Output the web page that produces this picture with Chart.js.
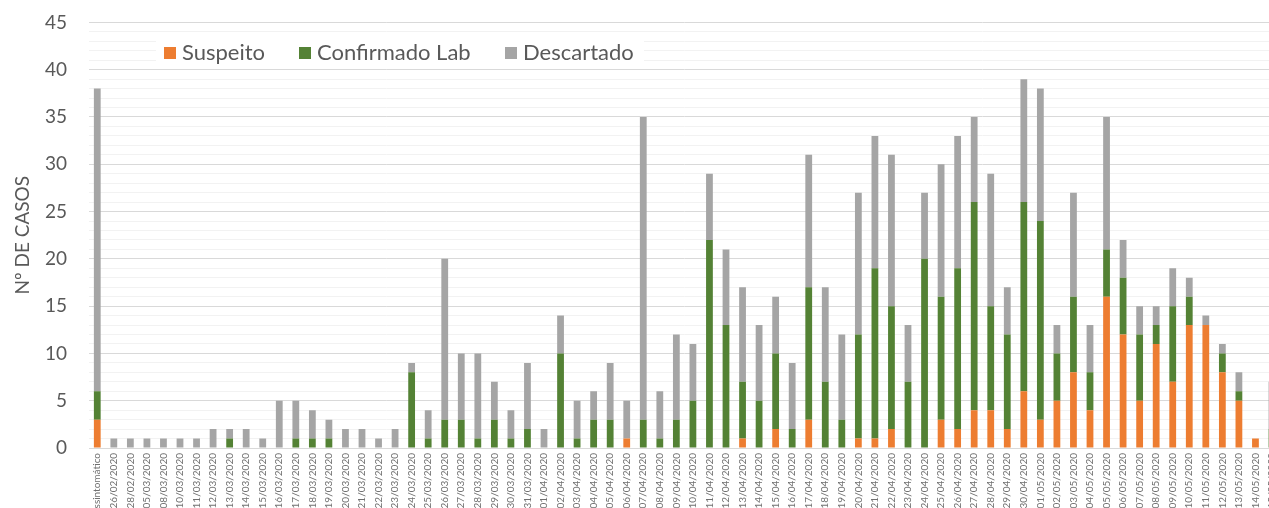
<!DOCTYPE html>
<html>
<head>
<meta charset="utf-8">
<script src="https://cdn.jsdelivr.net/npm/chart.js@4.4.1/dist/chart.umd.min.js"></script>
<style>
  html, body { margin: 0; padding: 0; background: #fff; overflow: hidden; }
  #wrap { width: 1269px; height: 508px; overflow: hidden; }
  #chart { display: block; margin-top: -11px; }
</style>
</head>
<body>
<div id="wrap"><canvas id="chart" width="1289" height="519"></canvas></div>
<script>
// categories (x axis) - last one is cut off at the right edge in the original
const labels = [
  'Assintomático', '26/02/2020', '28/02/2020', '05/03/2020', '08/03/2020', '10/03/2020',
  '11/03/2020', '12/03/2020', '13/03/2020', '14/03/2020', '15/03/2020', '16/03/2020',
  '17/03/2020', '18/03/2020', '19/03/2020', '20/03/2020', '21/03/2020', '22/03/2020',
  '23/03/2020', '24/03/2020', '25/03/2020', '26/03/2020', '27/03/2020', '28/03/2020',
  '29/03/2020', '30/03/2020', '31/03/2020', '01/04/2020', '02/04/2020', '03/04/2020',
  '04/04/2020', '05/04/2020', '06/04/2020', '07/04/2020', '08/04/2020', '09/04/2020',
  '10/04/2020', '11/04/2020', '12/04/2020', '13/04/2020', '14/04/2020', '15/04/2020',
  '16/04/2020', '17/04/2020', '18/04/2020', '19/04/2020', '20/04/2020', '21/04/2020',
  '22/04/2020', '23/04/2020', '24/04/2020', '25/04/2020', '26/04/2020', '27/04/2020',
  '28/04/2020', '29/04/2020', '30/04/2020', '01/05/2020', '02/05/2020', '03/05/2020',
  '04/05/2020', '05/05/2020', '06/05/2020', '07/05/2020', '08/05/2020', '09/05/2020',
  '10/05/2020', '11/05/2020', '12/05/2020', '13/05/2020', '14/05/2020', '15/05/2020'
];

const suspeito = [
  3, 0, 0, 0, 0, 0, 0, 0, 0, 0, 0, 0,
  0, 0, 0, 0, 0, 0, 0, 0, 0, 0, 0, 0,
  0, 0, 0, 0, 0, 0, 0, 0, 1, 0, 0, 0,
  0, 0, 0, 1, 0, 2, 0, 3, 0, 0, 1, 1,
  2, 0, 0, 3, 2, 4, 4, 2, 6, 3, 5, 8,
  4, 16, 12, 5, 11, 7, 13, 13, 8, 5, 1, 0
];

const confirmado = [
  3, 0, 0, 0, 0, 0, 0, 0, 1, 0, 0, 0,
  1, 1, 1, 0, 0, 0, 0, 8, 1, 3, 3, 1,
  3, 1, 2, 0, 10, 1, 3, 3, 0, 3, 1, 3,
  5, 22, 13, 6, 5, 8, 2, 14, 7, 3, 11, 18,
  13, 7, 20, 13, 17, 22, 11, 10, 20, 21, 5, 8,
  4, 5, 6, 7, 2, 8, 3, 0, 2, 1, 0, 2
];

const descartado = [
  32, 1, 1, 1, 1, 1, 1, 2, 1, 2, 1, 5,
  4, 3, 2, 2, 2, 1, 2, 1, 3, 17, 7, 9,
  4, 3, 7, 2, 4, 4, 3, 6, 4, 32, 5, 9,
  6, 7, 8, 10, 8, 6, 7, 14, 10, 9, 15, 14,
  16, 6, 7, 14, 14, 9, 14, 5, 13, 14, 3, 11,
  5, 14, 4, 3, 2, 4, 2, 1, 1, 2, 0, 5
];

const FONT = 'Lato, "Noto Sans", sans-serif';
const TEXT = '#595959';
const TOP = 11; // canvas is shifted up by this much

// legend drawn by hand so it sits inside the plot like the excel one
const legendPlugin = {
  id: 'excelLegend',
  afterDraw(chart) {
    const ctx = chart.ctx;
    const xs = [164, 299, 505];
    ctx.save();
    ctx.fillStyle = '#fff';
    ctx.fillRect(156, 40 + TOP, 488, 26);
    ctx.font = '22px ' + FONT;
    ctx.textBaseline = 'middle';
    chart.data.datasets.forEach((ds, i) => {
      ctx.fillStyle = ds.backgroundColor;
      ctx.fillRect(xs[i], 47 + TOP, 12, 12);
      ctx.fillStyle = TEXT;
      ctx.fillText(ds.label, xs[i] + 18, 53 + TOP);
    });
    ctx.restore();
  }
};

new Chart(document.getElementById('chart').getContext('2d'), {
  type: 'bar',
  data: {
    labels: labels,
    datasets: [
      { label: 'Suspeito', data: suspeito, backgroundColor: '#ED7D31' },
      { label: 'Confirmado Lab', data: confirmado, backgroundColor: '#548235' },
      { label: 'Descartado', data: descartado, backgroundColor: '#A5A5A5' }
    ]
  },
  options: {
    responsive: false,
    animation: false,
    layout: { padding: 0 },
    datasets: { bar: { categoryPercentage: 1, barPercentage: 0.41 } },
    plugins: {
      legend: { display: false },
      tooltip: { enabled: false }
    },
    scales: {
      x: {
        stacked: true,
        grid: { display: false, drawTicks: false },
        border: { color: '#D9D9D9', width: 1 },
        ticks: {
          autoSkip: false,
          minRotation: 90,
          maxRotation: 90,
          padding: 5,
          color: '#707070',
          font: { family: FONT, size: 10 }
        },
        afterFit(scale) { scale.height = 60; }
      },
      y: {
        stacked: true,
        min: 0,
        max: 45,
        border: { display: false },
        grid: {
          drawTicks: false,
          color: (c) => (c.tick && c.tick.value % 5 === 0) ? '#D9D9D9' : '#F2F2F2'
        },
        ticks: {
          stepSize: 1,
          autoSkip: false,
          padding: 22,
          color: TEXT,
          font: { family: FONT, size: 19 },
          callback: (v) => v % 5 === 0 ? v : ''
        },
        title: {
          display: true,
          text: 'Nº DE CASOS',
          color: TEXT,
          font: { family: FONT, size: 19 },
          padding: { top: 11, bottom: 0 }
        },
        afterFit(scale) { scale.width = 89; }
      }
    }
  },
  plugins: [legendPlugin]
});
</script>
</body>
</html>
